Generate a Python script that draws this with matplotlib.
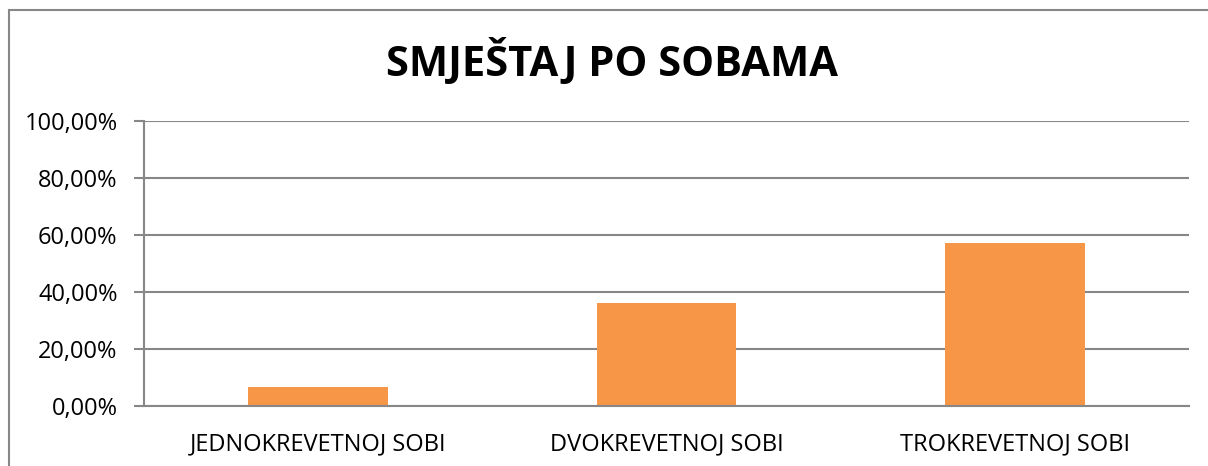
import matplotlib.pyplot as plt
from matplotlib.patches import Rectangle
from matplotlib.ticker import FuncFormatter

# podaci
kategorije = ["JEDNOKREVETNOJ SOBI", "DVOKREVETNOJ SOBI", "TROKREVETNOJ SOBI"]
postoci = [6.67, 36.19, 57.14]
y_ticks = [0, 20, 40, 60, 80, 100]

plt.rcParams['font.family'] = ['Open Sans', 'DejaVu Sans']

fig = plt.figure(figsize=(12.08, 4.66), dpi=100)
ax = fig.add_axes([144/1208, 1 - 406/466, (1189 - 144)/1208, (406 - 121)/466])

siva = "#878787"

# okvir oko grafikona
fig.patches.append(Rectangle((9/1208, -0.1), 1.2, 1 - 9.5/466 + 0.1,
                             transform=fig.transFigure, fill=False,
                             edgecolor=siva, linewidth=1.5))

x = range(len(kategorije))
ax.bar(x, postoci, width=0.4, color="#F79646", zorder=3)

ax.set_ylim(0, 100)
ax.set_xlim(-0.5, 2.5)
ax.set_yticks(y_ticks)
ax.yaxis.set_major_formatter(FuncFormatter(lambda v, p: f"{v:.2f}%".replace(".", ",")))
ax.set_xticks(list(x))
ax.set_xticklabels(kategorije)

ax.grid(axis="y", color=siva, linewidth=1.5, zorder=0)
for s in ["top", "right"]:
    ax.spines[s].set_visible(False)
ax.spines["left"].set_color(siva)
ax.spines["left"].set_linewidth(1.5)
ax.spines["bottom"].set_color(siva)
ax.spines["bottom"].set_linewidth(1.5)
ax.spines["bottom"].set_zorder(4)

ax.tick_params(axis="y", length=7, width=1.5, color=siva, labelsize=17, pad=12)
ax.tick_params(axis="x", length=0, labelsize=17, pad=19)

fig.text(612/1208, 1 - 62/466, "SMJEŠTAJ PO SOBAMA", ha="center", va="center",
         fontsize=30, fontweight="bold")

fig.savefig("out.png", dpi=100)
